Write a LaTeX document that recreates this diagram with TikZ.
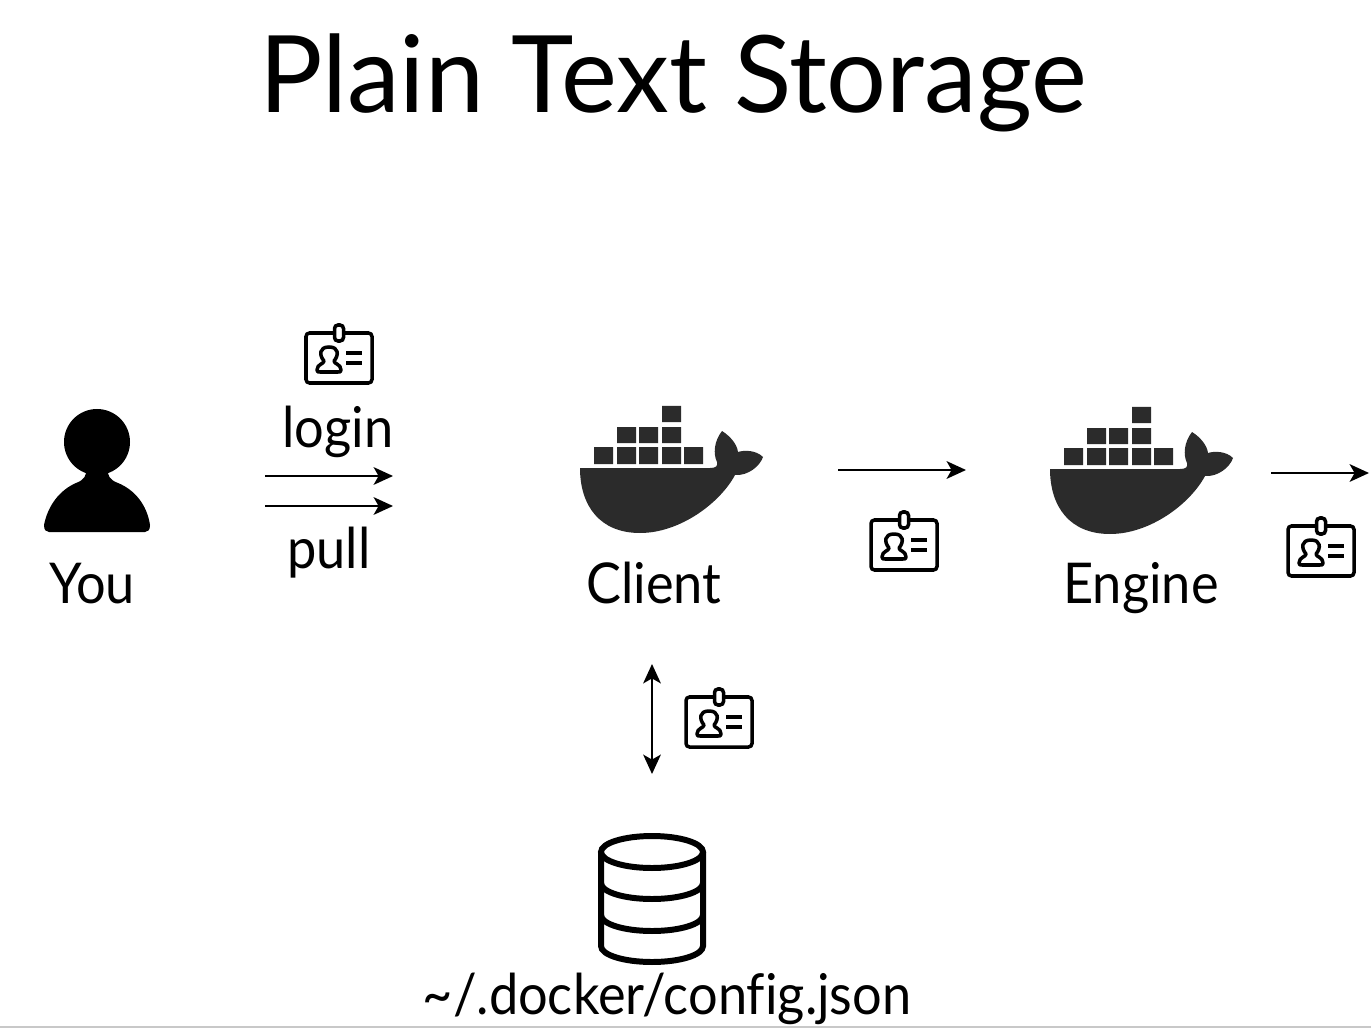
\documentclass[tikz,border=0pt]{standalone}
\usepackage{fontspec}
\setmainfont{Lato}[FakeStretch=0.93,Ligatures=NoCommon]
\newfontfamily\titlefont{Lato}[FakeStretch=0.99]
\usetikzlibrary{arrows.meta}
\definecolor{whale}{HTML}{2B2B2B}
\definecolor{rule}{HTML}{C8C8C8}
\tikzset{
  label text/.style={anchor=base, inner sep=0pt, font=\fontsize{16}{16}\selectfont},
  title text/.style={anchor=base, inner sep=0pt, font=\titlefont\fontsize{30.4}{31}\selectfont},
  flow/.style={line width=0.72pt, -{Stealth[length=5.5pt,width=5pt,inset=1.4pt]}},
  flow both/.style={line width=0.72pt, {Stealth[length=5.5pt,width=5pt,inset=1.4pt]}-{Stealth[length=5.5pt,width=5pt,inset=1.4pt]}},
  badge/.pic={
    \draw[line width=1pt, rounded corners=1pt] (-33,-25) rectangle (33,25);
    \draw[line width=1pt, fill=white, rounded corners=1pt] (-4.5,-33) rectangle (4.5,-17);
    \draw[line width=1pt, line join=round]
      (-15,3) .. controls (-20,-3) and (-20,-11) .. (-10,-11)
      .. controls (0,-11) and (0,-3) .. (-5,3)
      .. controls (-5,6) and (2,6) .. (2,12)
      .. controls (2,14) and (1,14) .. (-1,14) -- (-19,14)
      .. controls (-21,14) and (-22,14) .. (-22,12)
      .. controls (-22,6) and (-15,6) .. (-15,3) -- cycle;
    \draw[line width=1pt] (7,-5) -- (23,-5) (7,5) -- (23,5);
  },
  docker/.pic={
    \fill[whale]
      (14,-21) rectangle +(19,17) (37,-21) rectangle +(19,17) (59,-21) rectangle +(19,17)
      (82,-21) rectangle +(19,17) (104,-21) rectangle +(19,17)
      (37,-41) rectangle +(19,16) (59,-41) rectangle +(19,16) (82,-41) rectangle +(19,16)
      (82,-62) rectangle +(19,16);
    \fill[whale] (0,0) -- (130,0) .. controls (136,0) and (138,-2) .. (137,-6)
      .. controls (133,-14) and (134,-27) .. (142,-37)
      .. controls (150,-32) and (157,-24) .. (158,-16)
      .. controls (164,-18) and (176,-18) .. (183,-11)
      .. controls (180,-2) and (168,8) .. (155,7)
      .. controls (140,35) and (100,65) .. (60,65)
      .. controls (20,65) and (0,38) .. (0,0) -- cycle;
  },
  person/.pic={
    \fill (0,0) circle (33);
    \fill (-11,26) -- (11,26) .. controls (10,34) and (13,38) .. (21,41)
      .. controls (38,48) and (50,63) .. (53,83)
      .. controls (53,88) and (51,90) .. (48,90) -- (-48,90)
      .. controls (-51,90) and (-53,88) .. (-53,83)
      .. controls (-49,63) and (-37,48) .. (-21,41)
      .. controls (-13,38) and (-10,34) .. (-11,26) -- cycle;
  },
  database/.pic={
    \draw[line width=1.7pt] (0,-46) ellipse [x radius=51, y radius=16];
    \draw[line width=1.7pt] (-51,-46) -- (-51,48)
      .. controls (-51,57) and (-28,64) .. (0,64)
      .. controls (28,64) and (51,57) .. (51,48) -- (51,-46);
    \draw[line width=1.7pt] (-51,-15) .. controls (-51,-6) and (-28,1) .. (0,1)
      .. controls (28,1) and (51,-6) .. (51,-15);
    \draw[line width=1.7pt] (-51,17) .. controls (-51,26) and (-28,33) .. (0,33)
      .. controls (28,33) and (51,26) .. (51,17);
  }
}
\begin{document}
\begin{tikzpicture}[x=0.01cm, y=-0.01cm]
\useasboundingbox (0,0) rectangle (1371,1028);

% Title
\node[title text] (title) at (673,113) {Plain Text Storage};

% Actors
\pic (you) at (97,442) {person};
\pic (client) at (580,468) {docker};
\pic (engine) at (1050,469) {docker};
\pic (store) at (652,898) {database};

% Labels
\node[label text] (youLabel) at (92,603) {You};
\node[label text] (loginLabel) at (338,447) {login};
\node[label text] (pullLabel) at (329,568) {pull};
\node[label text] (clientLabel) at (654,603) {Client};
\node[label text] (engineLabel) at (1141,603) {Engine};
\node[label text] (storeLabel) at (667,1014) {\textasciitilde/.docker/config.json};

% Credential badges
\pic (badgeLogin) at (339,358) {badge};
\pic (badgeEngine) at (904,545) {badge};
\pic (badgeOut) at (1321,551) {badge};
\pic (badgeStore) at (719,722) {badge};

% Arrow ends
\coordinate (loginStart) at (265,476);
\coordinate (loginEnd) at (393,476);
\coordinate (pullStart) at (265,506);
\coordinate (pullEnd) at (393,506);
\coordinate (clientOut) at (838,470);
\coordinate (engineIn) at (966,470);
\coordinate (engineOut) at (1271,473);
\coordinate (registryIn) at (1369,473);
\coordinate (storeTop) at (652,664);
\coordinate (storeBottom) at (652,774);

% Arrows
\draw[flow] (loginStart) -- (loginEnd);
\draw[flow] (pullStart) -- (pullEnd);
\draw[flow] (clientOut) -- (engineIn);
\draw[flow] (engineOut) -- (registryIn);
\draw[flow both] (storeTop) -- (storeBottom);

% Slide edge
\fill[rule] (0,1026) rectangle (1371,1028);
\end{tikzpicture}
\end{document}
